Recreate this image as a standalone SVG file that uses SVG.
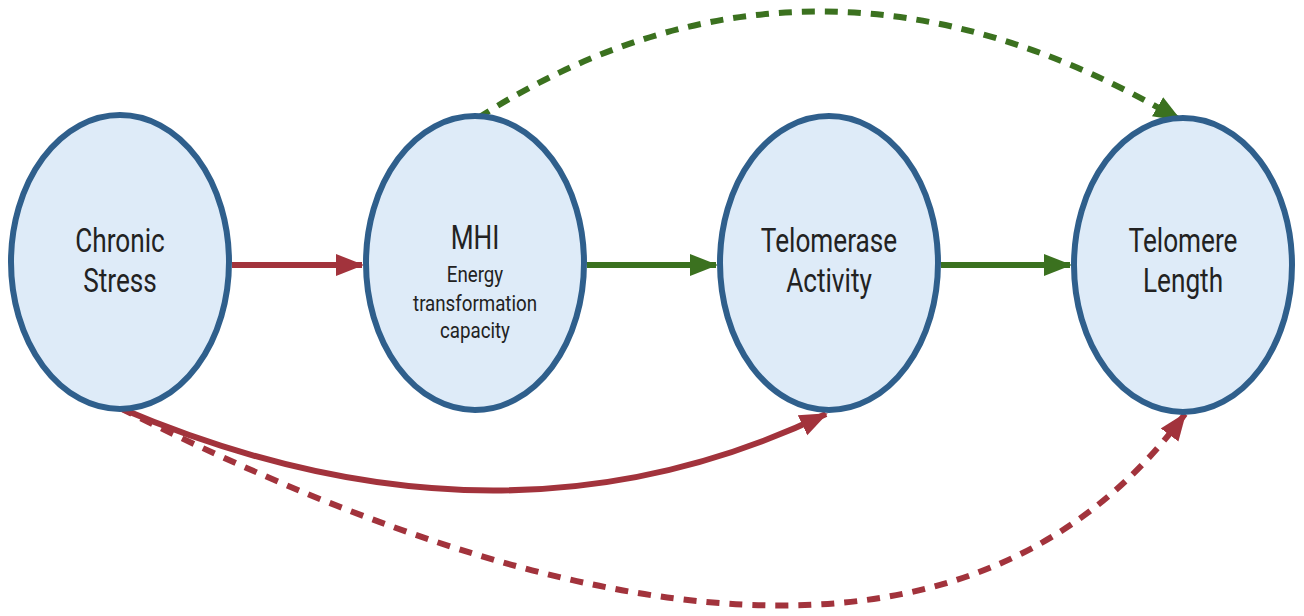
<svg xmlns="http://www.w3.org/2000/svg" width="1304" height="616" viewBox="0 0 1304 616">
<style>
.node{fill:#deebf8;stroke:#2f5f8c;stroke-width:6}
.t{font-family:Roboto,"Liberation Sans",sans-serif;fill:#222;text-anchor:middle}
.big{font-size:34px}
.small{font-size:21.5px}
.red{fill:none;stroke:#a2333c;stroke-width:6}
.green{fill:none;stroke:#3b711f;stroke-width:6}
.dash{stroke-dasharray:13 10}
</style>
<defs>
<marker id="ar" markerUnits="userSpaceOnUse" markerWidth="30" markerHeight="30" viewBox="0 0 30 30" refX="26" refY="15" orient="auto"><path d="M0,4 L28,15 L0,26 Z" fill="#a2333c"/></marker>
<marker id="ag" markerUnits="userSpaceOnUse" markerWidth="30" markerHeight="30" viewBox="0 0 30 30" refX="26" refY="15" orient="auto"><path d="M0,4 L28,15 L0,26 Z" fill="#3b711f"/></marker>
</defs>
<g id="connectors">
<path class="red" d="M232,265 L362,265" marker-end="url(#ar)"/>
<path class="green" d="M587,265 L716,265" marker-end="url(#ag)"/>
<path class="green" d="M941,265 L1070,265" marker-end="url(#ag)"/>
<path class="red" d="M120,408 Q500,570 826,414" marker-end="url(#ar)"/>
<path class="red dash" d="M120,408 Q900,800 1185,414" marker-end="url(#ar)"/>
<path class="green dash" d="M478,118 Q813,-96 1180,120" marker-end="url(#ag)"/>
</g>
<g id="chronic-stress">
<ellipse class="node" cx="120" cy="262" rx="109" ry="147"/>
<text class="t big" transform="matrix(0.77 0 0 1 120 0)" x="0" y="252">Chronic</text>
<text class="t big" transform="matrix(0.77 0 0 1 120 0)" x="0" y="292">Stress</text>
</g>
<g id="mhi">
<ellipse class="node" cx="475" cy="263" rx="109" ry="147"/>
<text class="t big" transform="matrix(0.77 0 0 1 475 0)" x="0" y="249">MHI</text>
<text class="t small" transform="matrix(0.87 0 0 1 475 0)" x="0" y="282">Energy</text>
<text class="t small" transform="matrix(0.87 0 0 1 475 0)" x="0" y="311">transformation</text>
<text class="t small" transform="matrix(0.87 0 0 1 475 0)" x="0" y="338">capacity</text>
</g>
<g id="telomerase-activity">
<ellipse class="node" cx="829" cy="263" rx="109" ry="147"/>
<text class="t big" transform="matrix(0.77 0 0 1 829 0)" x="0" y="252">Telomerase</text>
<text class="t big" transform="matrix(0.77 0 0 1 829 0)" x="0" y="292">Activity</text>
</g>
<g id="telomere-length">
<ellipse class="node" cx="1183" cy="265" rx="109" ry="147"/>
<text class="t big" transform="matrix(0.77 0 0 1 1183 0)" x="0" y="252">Telomere</text>
<text class="t big" transform="matrix(0.77 0 0 1 1183 0)" x="0" y="292">Length</text>
</g>
</svg>
